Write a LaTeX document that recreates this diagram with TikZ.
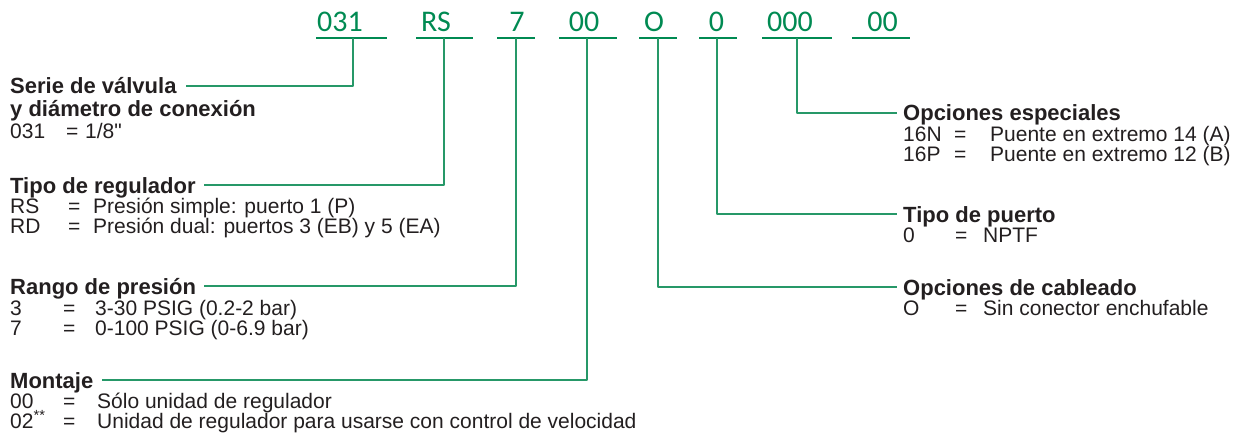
\documentclass[tikz,border=0pt]{standalone}
\usepackage{fontspec}
\setmainfont{Liberation Sans}
\newfontfamily\codefont{Carlito}
\usetikzlibrary{calc}
\definecolor{codegreen}{RGB}{0,138,82}
\definecolor{linkgreen}{RGB}{38,152,104}
\definecolor{inkgray}{RGB}{35,31,32}
% code | = | meaning, with fixed tab stops
\newcommand{\optline}[4]{\makebox[#1][l]{#3}\makebox[#2][l]{=}#4}

\tikzset{
  code/.style={inner sep=0pt, anchor=base, text=codegreen, font=\codefont\fontsize{30}{30}\selectfont},
  uline/.style={draw=codegreen, line width=1.3pt},
  link/.style={draw=linkgreen, line width=1.2pt},
  head/.style={inner sep=0pt, anchor=base west, text=inkgray, font=\fontsize{22}{22}\selectfont\bfseries},
  body/.style={inner sep=0pt, anchor=base west, text=inkgray, font=\fontsize{21}{21}\selectfont},
}

\begin{document}
\begin{tikzpicture}[x=1pt, y=-1pt, line join=round]
\useasboundingbox (0,0) rectangle (1243,444);

                % ordering code
                \foreach \txt/\cx/\ul/\ur/\tx/\nm in {031/340/316/387/353/serie, RS/436/416/473/444/reg, 7/517/497/535/516/rango, 00/584/559/617/587/mont, O/654/639/677/658/cable, 0/716.5/699/737/717/puerto, 000/790/762/832/797/esp}{
                    \node[code] (c\nm) at (\cx,32) {\txt};
                    \draw[uline] (\ul,38) -- (\ur,38);
                    \coordinate (t\nm) at (\tx,38);
                }
                \node[code] (cfin) at (882.5,32) {00};
                \draw[uline] (852,38) -- (910,38);

                % left column
                \node[head] (hserie) at (10,94) {Serie de válvula};
                \node[head] (hserieb) at (10,117) {y diámetro de conexión};
                \node[body] (r031) at (10,138) {\optline{56pt}{19pt}{031}{1/8\textquotedbl}};

                \node[head] (hreg) at (10,193) {Tipo de regulador};
                \node[body] (rrs) at (10,213) {\optline{58pt}{25pt}{RS}{Presión simple: puerto 1 (P)}};
                \node[body] (rrd) at (10,233) {\optline{58pt}{25pt}{RD}{Presión dual: puertos 3 (EB) y 5 (EA)}};

                \node[head] (hrango) at (10,294) {Rango de presión};
                \node[body] (r3) at (10,315) {\optline{53pt}{32pt}{3}{3-30 PSIG (0.2-2 bar)}};
                \node[body] (r7) at (10,335) {\optline{53pt}{32pt}{7}{0-100 PSIG (0-6.9 bar)}};

                \node[head] (hmont) at (10,388) {Montaje};
                \node[body] (r00) at (10,408) {\optline{53pt}{34pt}{00}{Sólo unidad de regulador}};
                \node[body] (r02) at (10,428) {\optline{53pt}{34pt}{02\textsuperscript{**}}{Unidad de regulador para usarse con control de velocidad}};

                % right column
                \node[head] (hesp) at (903,121) {Opciones especiales};
                \node[body] (r16n) at (903,141) {\optline{51pt}{36pt}{16N}{Puente en extremo 14 (A)}};
                \node[body] (r16p) at (903,161) {\optline{51pt}{36pt}{16P}{Puente en extremo 12 (B)}};

                \node[head] (hpuerto) at (903,222) {Tipo de puerto};
                \node[body] (rnptf) at (903,242) {\optline{52pt}{28pt}{0}{NPTF}};

                \node[head] (hcable) at (903,295) {Opciones de cableado};
                \node[body] (rsin) at (903,315) {\optline{52pt}{28pt}{O}{Sin conector enchufable}};

                % connectors
                \draw[link] (tserie) |- ($(hserie.base east)+(9,-8)$);
                \draw[link] (treg) |- ($(hreg.base east)+(8,-8)$);
                \draw[link] (trango) |- ($(hrango.base east)+(8,-8)$);
                \draw[link] (tmont) |- ($(hmont.base east)+(8,-8)$);
                \draw[link] (tcable) |- ($(hcable.base west)+(-6,-8)$);
                \draw[link] (tpuerto) |- ($(hpuerto.base west)+(-6,-8)$);
                \draw[link] (tesp) |- ($(hesp.base west)+(-6,-8)$);

\end{tikzpicture}
\end{document}
